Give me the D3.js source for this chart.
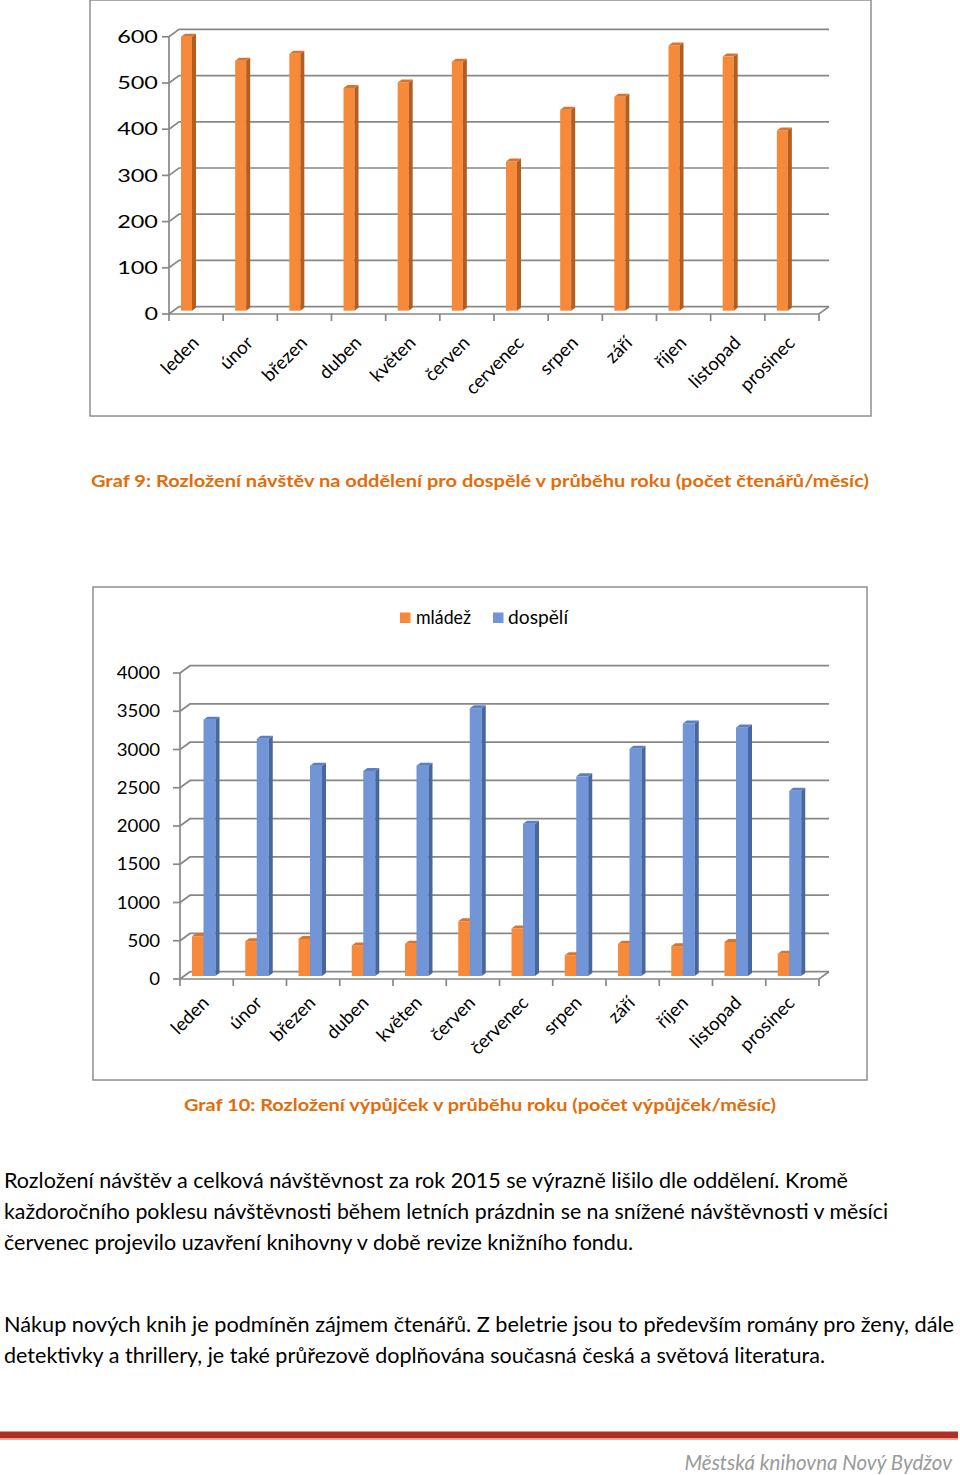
<!DOCTYPE html>
<html><head><meta charset="utf-8">
<script src="https://cdn.jsdelivr.net/npm/d3@7"></script>
<style>body{margin:0;background:#fff}svg{display:block}</style>
</head><body>
<svg id="c" width="960" height="1475"></svg>
<script>
// ---------- DATA ----------
const months1 = ["leden","únor","březen","duben","květen","červen","cervenec","srpen","září","říjen","listopad","prosinec"];
const months2 = ["leden","únor","březen","duben","květen","červen","červenec","srpen","září","říjen","listopad","prosinec"];
const visitsAdults = [593,541,556,482,494,539,323,435,463,574,550,390];
const loansYouth  = [520,455,485,400,420,715,620,270,420,390,445,290];
const loansAdults = [3350,3100,2750,2680,2750,3500,1990,2610,2970,3300,3250,2420];
const ticks1 = [0,100,200,300,400,500,600];
const ticks2 = [0,500,1000,1500,2000,2500,3000,3500,4000];
const seriesNames = ["mládež","dospělí"];
const caption1 = "Graf 9: Rozložení návštěv na oddělení pro dospělé v průběhu roku (počet čtenářů/měsíc)";
const caption2 = "Graf 10: Rozložení výpůjček v průběhu roku (počet výpůjček/měsíc)";
const para1 = ["Rozložení návštěv a celková návštěvnost za rok 2015 se výrazně lišilo dle oddělení. Kromě",
  "každoročního poklesu návštěvnosti během letních prázdnin se na snížené návštěvnosti v měsíci",
  "červenec projevilo uzavření knihovny v době revize knižního fondu."];
const para2 = ["Nákup nových knih je podmíněn zájmem čtenářů. Z beletrie jsou to především romány pro ženy, dále",
  "detektivky a thrillery, je také průřezově doplňována současná česká a světová literatura."];
const footer = "Městská knihovna Nový Bydžov";

// ---------- STYLE ----------
const FONT = "Lato, 'Open Sans', sans-serif";
const GRID = "#888888";
const ORANGE = {front:"#f78a3a", side:"#b35d20", top:"#d9742e"};
const BLUE = {front:"#7195d7", side:"#47679f", top:"#5b80c2"};

const svg = d3.select("#c");
svg.append("rect").attr("width",960).attr("height",1475).attr("fill","#fff");

function box(x,y,w,h){
  svg.append("rect").attr("x",x).attr("y",y).attr("width",w).attr("height",h)
    .attr("fill","none").attr("stroke","#8f8f8f").attr("stroke-width",1.5);
}

function bar(g, xl, w, yb, yt, col, sdx, sdy){
  g.append("rect").attr("x",xl).attr("y",yt).attr("width",w).attr("height",yb-yt).attr("fill",col.front);
  g.append("path").attr("d",`M${xl+w},${yt}L${xl+w+sdx},${yt+sdy}L${xl+w+sdx},${yb+sdy}L${xl+w},${yb}Z`).attr("fill",col.side);
  g.append("path").attr("d",`M${xl},${yt}L${xl+w},${yt}L${xl+w+sdx},${yt+sdy}L${xl+sdx},${yt+sdy}Z`).attr("fill",col.top);
}

function chart(o){
  const g = svg.append("g");
  const x = d3.scaleBand().domain(o.cats).range([o.x0,o.x1]);
  const y = d3.scaleLinear().domain([0,o.max]).range([o.y0,o.yTop]);
  const dx=o.dx, dy=o.dy;
  o.ticks.forEach(t=>{
    const yf=y(t);
    g.append("path").attr("d",`M${o.x0},${yf}L${o.x0+dx},${yf+dy}L${o.x1+dx},${yf+dy}`)
      .attr("fill","none").attr("stroke",GRID).attr("stroke-width",1.7);
    g.append("line").attr("x1",o.x0-7).attr("x2",o.x0).attr("y1",yf).attr("y2",yf)
      .attr("stroke",GRID).attr("stroke-width",1.7);
    g.append("text").attr("x",o.labX).attr("y",yf).attr("dy","0.36em").attr("text-anchor","end")
      .attr("font-family",FONT).attr("font-size",o.tickFs).attr("fill","#000")
      .attr("textLength",String(t).length*o.digitW).attr("lengthAdjust","spacingAndGlyphs")
      .text(t);
  });
  g.append("path").attr("d",`M${o.x0},${o.y0}L${o.x1},${o.y0}L${o.x1+dx},${o.y0+dy}`)
    .attr("fill","none").attr("stroke",GRID).attr("stroke-width",1.7);
  g.append("line").attr("x1",o.x0).attr("x2",o.x0).attr("y1",o.y0).attr("y2",y(o.max))
    .attr("stroke",GRID).attr("stroke-width",1.7);
  const edges = o.cats.map(c=>x(c)).concat([o.x1]);
  edges.forEach(e=>g.append("line").attr("x1",e).attr("x2",e).attr("y1",o.y0).attr("y2",o.y0+7)
    .attr("stroke",GRID).attr("stroke-width",1.7));
  const yb = o.y0 + o.baseShift;
  o.cats.forEach((c,i)=>{
    o.series.forEach(s=>{
      const h = o.y0 - y(s.values[i]);
      bar(g, x(c)+s.off, s.w, yb, yb-h, s.col, 4, -3);
    });
  });
  o.cats.forEach(c=>{
    const cx = x(c)+x.bandwidth()/2 + o.labDx;
    g.append("text").attr("transform",`translate(${cx},${o.labY}) rotate(-45)`)
      .attr("text-anchor","end").attr("font-family",FONT).attr("font-size",o.catFs).attr("fill","#000")
      .text(c);
  });
  return g;
}

// ---------- CHART 1 ----------
box(90,0,781,416);
chart({cats:months1, x0:169, x1:819, y0:314, yTop:314-277.2, max:600, dx:10, dy:-7.4,
  ticks:ticks1, labX:158, tickFs:17, digitW:13.6, baseShift:-3.3, labDx:4, labY:344, catFs:18.5,
  series:[{values:visitsAdults, off:12, w:11, col:ORANGE}]});

svg.append("text").attr("x",91).attr("y",487).attr("font-family",FONT).attr("font-weight","bold")
  .attr("font-size",17).attr("fill","#e36c0a").attr("textLength",778).attr("lengthAdjust","spacingAndGlyphs")
  .text(caption1);

// ---------- CHART 2 ----------
box(93,587,774,493);
chart({cats:months2, x0:180, x1:819, y0:979, yTop:979-306, max:4000, dx:10, dy:-7.3,
  ticks:ticks2, labX:160, tickFs:17, digitW:10.8, baseShift:-3, labDx:3.5, labY:1004, catFs:18.5,
  series:[{values:loansYouth, off:12, w:11.5, col:ORANGE},{values:loansAdults, off:23.5, w:12, col:BLUE}]});

const leg = svg.append("g");
[[400,416,ORANGE.front,55],[493,508,BLUE.front,60]].forEach((l,i)=>{
  leg.append("rect").attr("x",l[0]).attr("y",612.5).attr("width",10.5).attr("height",10.5).attr("fill",l[2]);
  leg.append("text").attr("x",l[1]).attr("y",624).attr("font-family",FONT).attr("font-size",19)
    .attr("fill","#000").attr("textLength",l[3]).attr("lengthAdjust","spacingAndGlyphs").text(seriesNames[i]);
});

svg.append("text").attr("x",184).attr("y",1111).attr("font-family",FONT).attr("font-weight","bold")
  .attr("font-size",17).attr("fill","#e36c0a").attr("textLength",592).attr("lengthAdjust","spacingAndGlyphs")
  .text(caption2);

// ---------- BODY TEXT ----------
const lens1=[844,884,629], lens2=[950,821];
para1.forEach((t,i)=>svg.append("text").attr("x",4).attr("y",1188+31*i).attr("font-family",FONT)
  .attr("font-size",20.5).attr("fill","#000").attr("textLength",lens1[i]).attr("lengthAdjust","spacingAndGlyphs").text(t));
para2.forEach((t,i)=>svg.append("text").attr("x",4).attr("y",1332+31*i).attr("font-family",FONT)
  .attr("font-size",20.5).attr("fill","#000").attr("textLength",lens2[i]).attr("lengthAdjust","spacingAndGlyphs").text(t));

// ---------- FOOTER ----------
svg.append("rect").attr("x",0).attr("y",1431.5).attr("width",958).attr("height",7).attr("fill","#b32e1f");
svg.append("rect").attr("x",0).attr("y",1438.5).attr("width",958).attr("height",1.5).attr("fill","#e8a99e");
svg.append("text").attr("x",952).attr("y",1470).attr("text-anchor","end").attr("font-family",FONT)
  .attr("font-style","italic").attr("font-size",20.5).attr("fill","#9a9a9a").text(footer);
</script>
</body></html>
